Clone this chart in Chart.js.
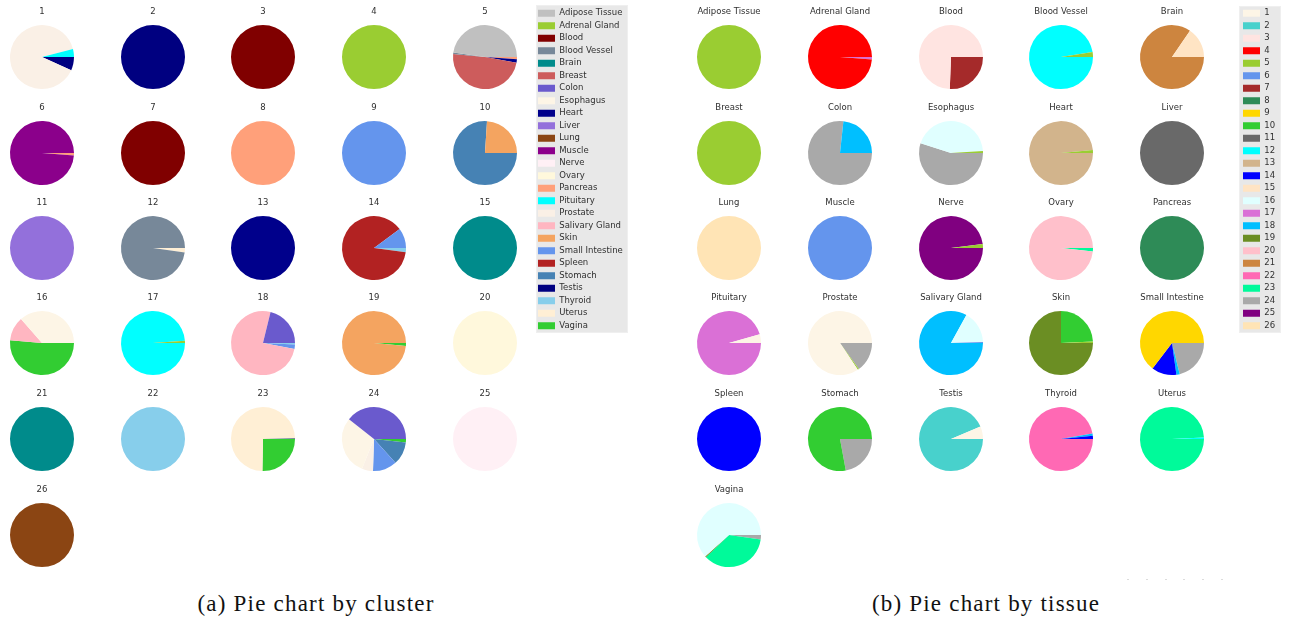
<!DOCTYPE html>
<html>
<head>
<meta charset="utf-8">
<script src="https://cdn.jsdelivr.net/npm/chart.js@4.4.1/dist/chart.umd.min.js"></script>
<style>
  html, body { margin: 0; padding: 0; background: #ffffff; }
  body { width: 1294px; height: 623px; position: relative; overflow: hidden; }
  canvas { position: absolute; }
  .legend-bg { position: absolute; background: #e8e8e8; border: 1px solid #efefef; box-sizing: border-box; }
  .caption { position: absolute; font-family: 'Liberation Serif', 'Times New Roman', serif; font-size: 23px;
             line-height: 26px; letter-spacing: 1.2px; color: #111; white-space: nowrap; transform: translateX(-50%); }
  .dot { position: absolute; width: 2px; height: 1px; background: #dcdcdc; }
</style>
</head>
<body>
<script>
// Tissue categories and their colours
const tissues = ['Adipose Tissue', 'Adrenal Gland', 'Blood', 'Blood Vessel', 'Brain', 'Breast', 'Colon',
  'Esophagus', 'Heart', 'Liver', 'Lung', 'Muscle', 'Nerve', 'Ovary', 'Pancreas', 'Pituitary', 'Prostate',
  'Salivary Gland', 'Skin', 'Small Intestine', 'Spleen', 'Stomach', 'Testis', 'Thyroid', 'Uterus', 'Vagina'];
const tissueColors = ['#C0C0C0', '#9ACD32', '#800000', '#778899', '#008B8B', '#CD5C5C', '#6A5ACD',
  '#FDF5E6', '#00008B', '#9370DB', '#8B4513', '#8B008B', '#FFF0F5', '#FFF8DC', '#FFA07A', '#00FFFF', '#FAF0E6',
  '#FFB6C1', '#F4A460', '#6495ED', '#B22222', '#4682B4', '#000080', '#87CEEB', '#FFEFD5', '#32CD32'];

// Cluster categories and their colours
const clusters = ['1', '2', '3', '4', '5', '6', '7', '8', '9', '10', '11', '12', '13',
  '14', '15', '16', '17', '18', '19', '20', '21', '22', '23', '24', '25', '26'];
const clusterColors = ['#FDF5E6', '#48D1CC', '#FFE4E1', '#FF0000', '#9ACD32', '#6495ED', '#A52A2A',
  '#2E8B57', '#FFD700', '#32CD32', '#696969', '#00FFFF', '#D2B48C', '#0000FF', '#FFE4C4', '#E0FFFF',
  '#DA70D6', '#00BFFF', '#6B8E23', '#FFC0CB', '#CD853F', '#FF69B4', '#00FA9A', '#A9A9A9', '#800080', '#FFE4B5'];

// Share (%) of each tissue inside every cluster, clusters 1..26
const clusterMix = [
  { 'Pituitary': 4.1, 'Prostate': 89.2, 'Testis': 6.7 },
  { 'Testis': 100 },
  { 'Blood': 100 },
  { 'Adrenal Gland': 100 },
  { 'Adipose Tissue': 47.7, 'Blood Vessel': 0.7, 'Breast': 48.8, 'Heart': 1.7, 'Pancreas': 1.1 },
  { 'Muscle': 98.8, 'Pancreas': 1.2 },
  { 'Blood': 100 },
  { 'Pancreas': 100 },
  { 'Small Intestine': 100 },
  { 'Skin': 24, 'Stomach': 76 },
  { 'Liver': 100 },
  { 'Blood Vessel': 97.8, 'Uterus': 2.2 },
  { 'Heart': 100 },
  { 'Small Intestine': 10.2, 'Spleen': 87.7, 'Thyroid': 2.1 },
  { 'Brain': 100 },
  { 'Esophagus': 36.4, 'Salivary Gland': 12.2, 'Vagina': 51.4 },
  { 'Adrenal Gland': 1.2, 'Pituitary': 98.8 },
  { 'Colon': 21.2, 'Salivary Gland': 75.8, 'Small Intestine': 2.3, 'Thyroid': 0.7 },
  { 'Skin': 98.5, 'Vagina': 1.5 },
  { 'Ovary': 100 },
  { 'Brain': 100 },
  { 'Thyroid': 100 },
  { 'Blood Vessel': 0.5, 'Uterus': 74.2, 'Vagina': 25.3 },
  { 'Colon': 39.3, 'Esophagus': 29.6, 'Prostate': 5.6, 'Small Intestine': 12.2, 'Stomach': 11.6, 'Vagina': 1.7 },
  { 'Nerve': 100 },
  { 'Lung': 100 }
];

// Share (%) of each cluster inside every tissue, in tissue order
const tissueMix = [
  { '5': 100 },
  { '4': 98.8, '17': 1.2 },
  { '3': 74.4, '7': 25.6 },
  { '5': 2.5, '12': 97.5 },
  { '15': 15.5, '21': 84.5 },
  { '5': 100 },
  { '18': 23.3, '24': 76.7 },
  { '5': 1, '16': 44, '24': 55 },
  { '5': 1.5, '13': 98.5 },
  { '11': 100 },
  { '26': 100 },
  { '6': 100 },
  { '5': 2, '25': 98 },
  { '20': 98.3, '23': 1.7 },
  { '8': 100 },
  { '1': 4.4, '17': 95.6 },
  { '1': 84.4, '5': 0.6, '24': 15 },
  { '6': 0.5, '16': 16.5, '18': 83 },
  { '5': 0.8, '10': 24.2, '19': 75 },
  { '9': 64.6, '14': 12.6, '18': 1.7, '24': 21.1 },
  { '14': 100 },
  { '10': 77.9, '24': 22.1 },
  { '1': 6.4, '2': 93.6 },
  { '14': 1.7, '18': 1.1, '22': 97.2 },
  { '12': 0.8, '23': 99.2 },
  { '16': 61.6, '19': 0.6, '23': 35.6, '24': 2.2 }
];

// Grid of pie centres for the two panels
const colCentersA = [41.5, 152.5, 263, 374, 484.5];
const colCentersB = [729, 840, 951, 1061, 1172];
const rowCenters = [57, 153, 248, 343, 439, 535];

Chart.defaults.font.family = "'DejaVu Sans', sans-serif";
Chart.defaults.color = '#303030';

const PIE_W = 110, PIE_H = 90;

function makeCanvas(left, top, w, h) {
  const c = document.createElement('canvas');
  c.width = w; c.height = h;
  c.style.left = left + 'px';
  c.style.top = top + 'px';
  c.style.width = w + 'px';
  c.style.height = h + 'px';
  document.body.appendChild(c);
  return c;
}

// One pie: slices follow category order counter-clockwise from 3 o'clock,
// so the order is reversed and drawn clockwise from the same start.
function addPie(cx, cy, title, names, colors, mix) {
  const labels = [], values = [], fills = [];
  names.forEach((n, i) => {
    if (mix[n]) { labels.push(n); values.push(mix[n]); fills.push(colors[i]); }
  });
  labels.reverse(); values.reverse(); fills.reverse();
  const canvas = makeCanvas(cx - PIE_W / 2, cy - 52.1, PIE_W, PIE_H);
  new Chart(canvas, {
    type: 'pie',
    data: { labels: labels, datasets: [{ data: values, backgroundColor: fills, borderWidth: 0 }] },
    options: {
      responsive: false, animation: false, events: [],
      rotation: 90,
      layout: { padding: { left: 23, right: 23, top: 0, bottom: 0 } },
      plugins: {
        legend: { display: false },
        tooltip: { enabled: false },
        title: { display: true, text: title, color: '#303030',
                 font: { size: 8.5, weight: 'normal', lineHeight: 1.2 }, padding: { top: 2, bottom: 2 } }
      }
    }
  });
}

// Legend-only chart: zero-valued pie so that only the legend is drawn.
// The canvas is twice the legend width, as a side legend may use half the chart.
function addLegend(left, top, w, h, names, colors) {
  const canvas = makeCanvas(left, top, w, h);
  new Chart(canvas, {
    type: 'pie',
    data: { labels: names, datasets: [{ data: names.map(() => 0), backgroundColor: colors, borderWidth: 0 }] },
    options: {
      responsive: false, animation: false, events: [],
      layout: { padding: 0 },
      plugins: {
        tooltip: { enabled: false },
        legend: {
          display: true, position: 'left', align: 'start',
          labels: { boxWidth: 17, boxHeight: 7, padding: 4, color: '#303030', font: { size: 8.5 } }
        }
      }
    }
  });
}

function addBox(left, top, w, h) {
  const d = document.createElement('div');
  d.className = 'legend-bg';
  Object.assign(d.style, { left: left + 'px', top: top + 'px', width: w + 'px', height: h + 'px' });
  document.body.appendChild(d);
}

function addCaption(cx, top, text) {
  const d = document.createElement('div');
  d.className = 'caption';
  d.style.left = cx + 'px';
  d.style.top = top + 'px';
  d.textContent = text;
  document.body.appendChild(d);
}

// (a) one pie per cluster, split by tissue
clusters.forEach((c, i) => {
  addPie(colCentersA[i % 5], rowCenters[Math.floor(i / 5)], c, tissues, tissueColors, clusterMix[i]);
});
addBox(536, 5, 92, 328);
addLegend(534, 5, 210, 340, tissues, tissueColors);

// (b) one pie per tissue, split by cluster
tissues.forEach((t, i) => {
  addPie(colCentersB[i % 5], rowCenters[Math.floor(i / 5)], t, clusters, clusterColors, tissueMix[i]);
});
addBox(1239, 6, 42, 327);
addLegend(1239, 5, 110, 340, clusters, clusterColors);

addCaption(316, 591, '(a) Pie chart by cluster');
addCaption(986, 591, '(b) Pie chart by tissue');

// faint marks along the lower right edge of panel (b)
for (let k = 0; k < 6; k++) {
  const d = document.createElement('div');
  d.className = 'dot';
  d.style.left = (1127 + k * 18.8) + 'px';
  d.style.top = '579px';
  document.body.appendChild(d);
}
</script>
</body>
</html>
